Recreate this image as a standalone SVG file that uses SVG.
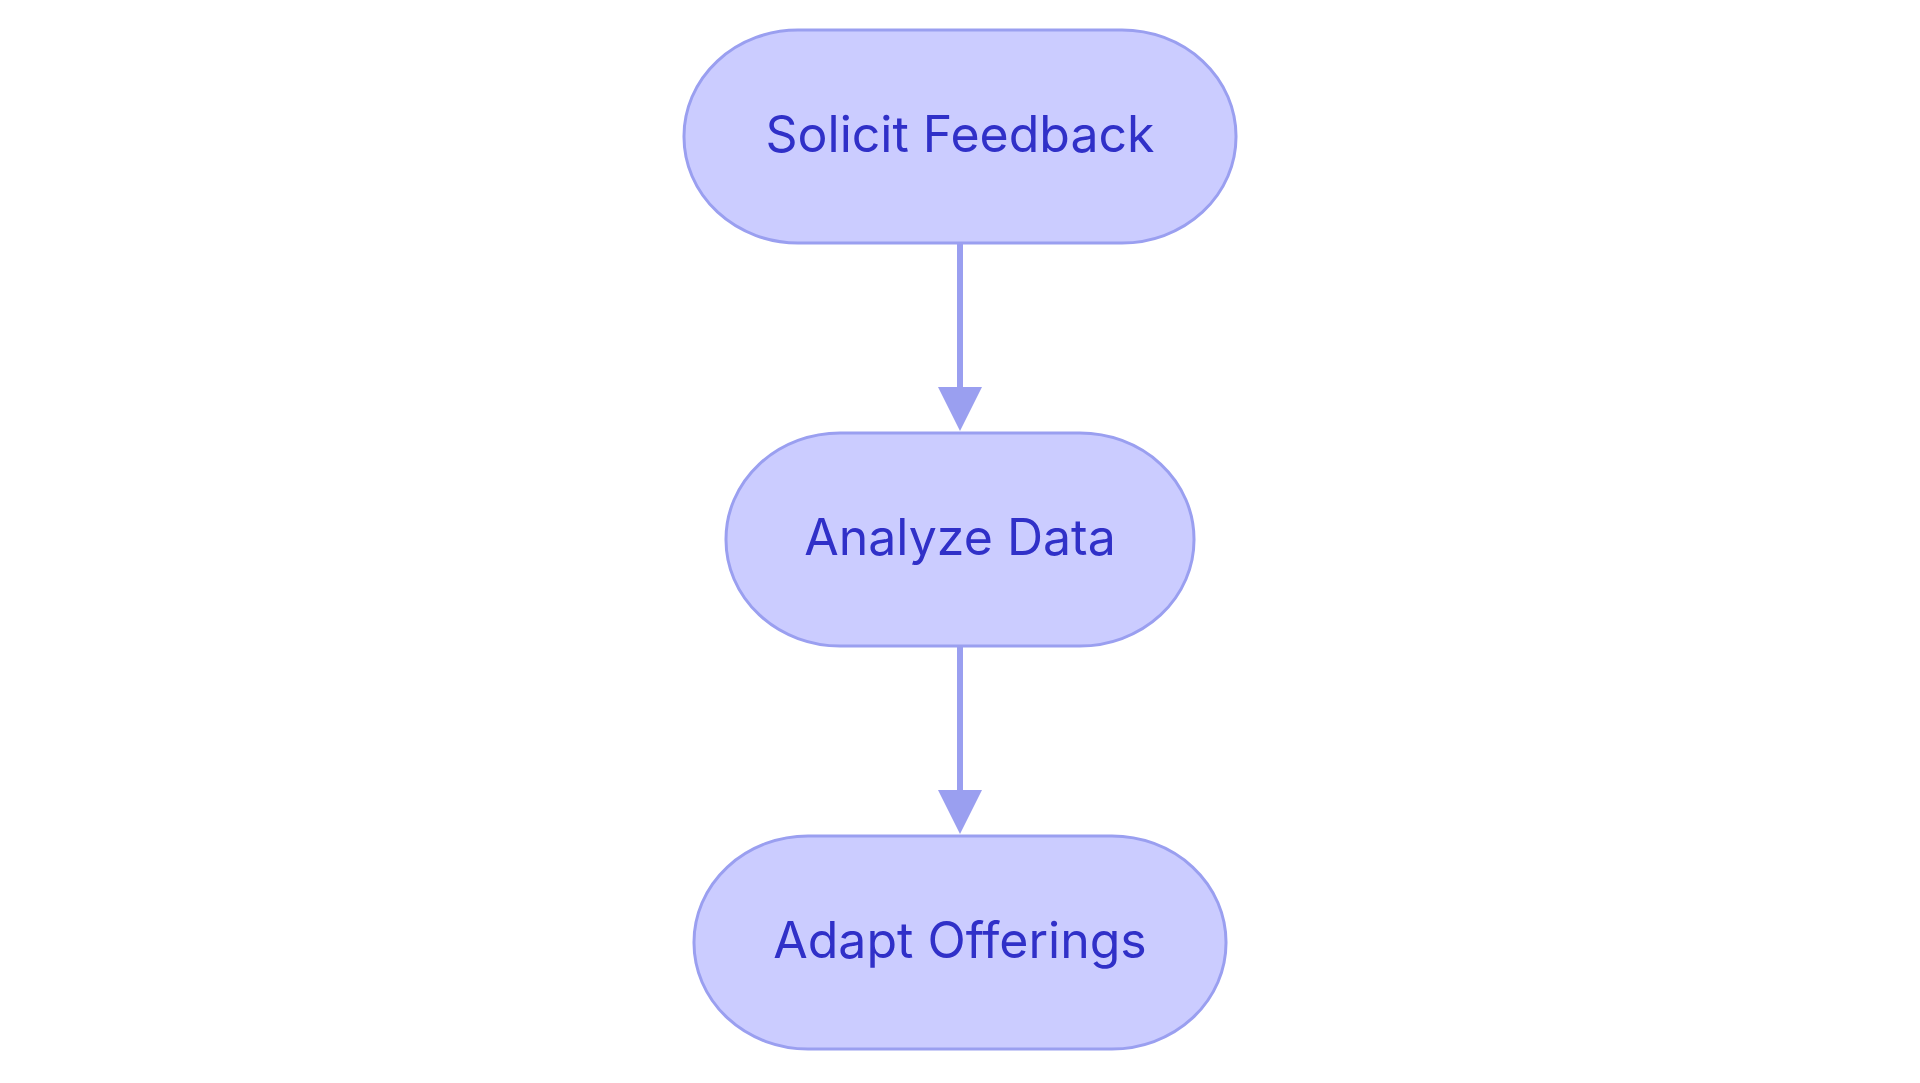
<svg xmlns="http://www.w3.org/2000/svg" width="1920" height="1083" viewBox="0 0 1920 1083">
<style>
.n rect{fill:#cbccff;stroke:#9a9ff0;stroke-width:3}
.n text{fill:#3030c8;font-family:Inter,"Liberation Sans",sans-serif;font-size:50px;text-anchor:middle;dominant-baseline:central}
.e{stroke:#9a9ff0;stroke-width:6;fill:none}
</style>
<defs><marker id="a" markerWidth="8" markerHeight="8" refX="7" refY="4" orient="auto" markerUnits="userSpaceOnUse" viewBox="0 0 8 8"><path d="M0,0L8,4L0,8z" fill="#9a9ff0"/></marker></defs>
<rect width="1920" height="1083" fill="#fff"/>
<g id="edges">
<line class="e" x1="960" y1="243" x2="960" y2="390"/>
<path d="M938,387L982,387L960,431z" fill="#9a9ff0"/>
<line class="e" x1="960" y1="646" x2="960" y2="793"/>
<path d="M938,790L982,790L960,834z" fill="#9a9ff0"/>
</g>
<g id="n1" class="n"><rect x="684" y="30" width="552" height="213" rx="114" ry="106"/><text x="960" y="134">Solicit Feedback</text></g>
<g id="n2" class="n"><rect x="726" y="433" width="468" height="213" rx="114" ry="106"/><text x="960" y="537">Analyze Data</text></g>
<g id="n3" class="n"><rect x="694" y="836" width="532" height="213" rx="114" ry="106"/><text x="960" y="940">Adapt Offerings</text></g>
</svg>
